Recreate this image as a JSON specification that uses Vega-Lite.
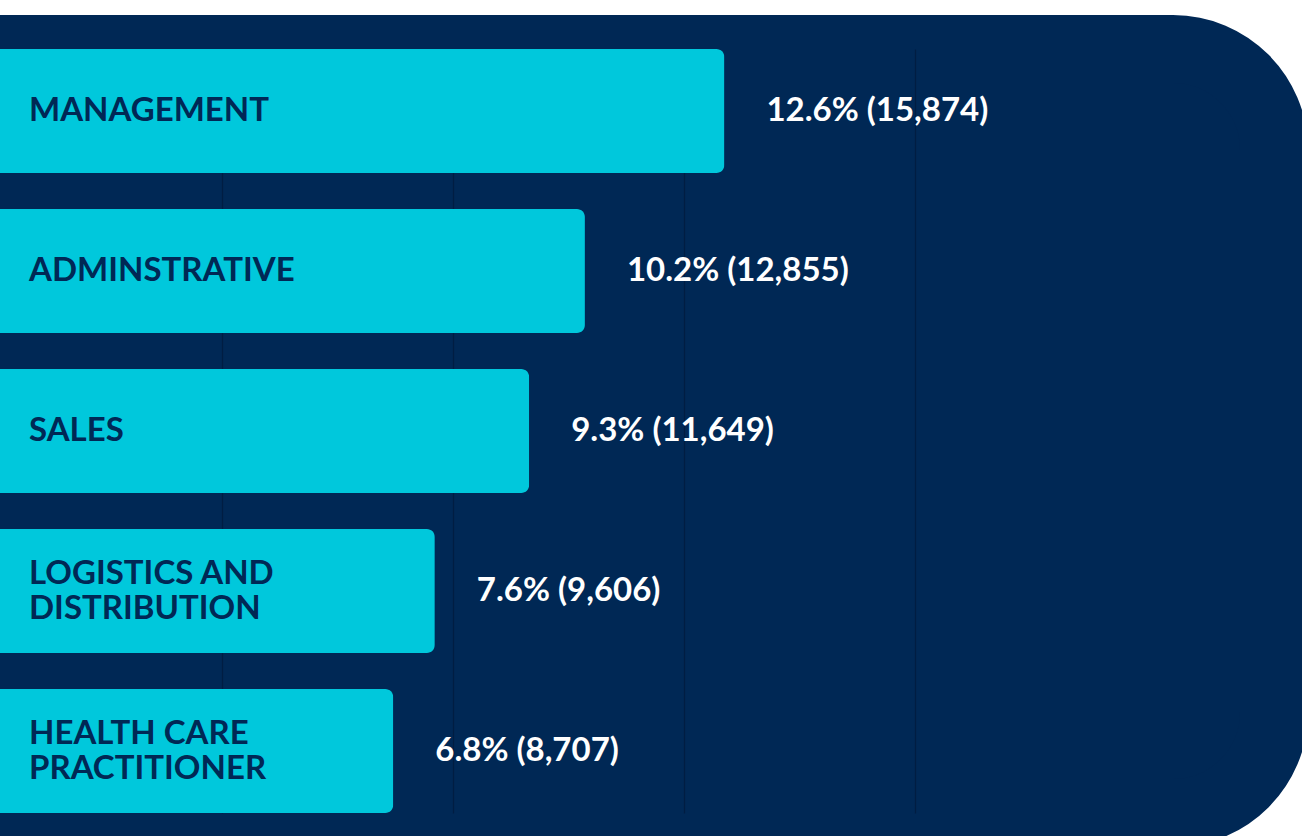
{
  "$schema": "https://vega.github.io/schema/vega-lite/v6.json",
  "width": 1514,
  "height": 764,
  "autosize": {"type": "none"},
  "padding": {"left": -240, "top": 49, "right": 28, "bottom": 23},
  "background": "#ffffff",
  "config": {
    "view": {"fill": "#002855", "stroke": "#002855", "strokeWidth": 68, "cornerRadius": 101},
    "font": "Lato"
  },
  "data": {
    "values": [
      {"category": "MANAGEMENT", "label": "MANAGEMENT", "lines": 1, "count": 15874, "pct": 12.6, "value_label": "12.6% (15,874)"},
      {"category": "ADMINSTRATIVE", "label": "ADMINSTRATIVE", "lines": 1, "count": 12855, "pct": 10.2, "value_label": "10.2% (12,855)"},
      {"category": "SALES", "label": "SALES", "lines": 1, "count": 11649, "pct": 9.3, "value_label": "9.3% (11,649)"},
      {"category": "LOGISTICS AND DISTRIBUTION", "label": "LOGISTICS AND\nDISTRIBUTION", "lines": 2, "count": 9606, "pct": 7.6, "value_label": "7.6% (9,606)"},
      {"category": "HEALTH CARE PRACTITIONER", "label": "HEALTH CARE\nPRACTITIONER", "lines": 2, "count": 8707, "pct": 6.8, "value_label": "6.8% (8,707)"}
    ]
  },
  "encoding": {
    "y": {
      "field": "category",
      "type": "nominal",
      "sort": null,
      "scale": {"paddingInner": 0.225, "paddingOuter": 0},
      "axis": null
    }
  },
  "layer": [
    {
      "mark": {"type": "bar", "color": "#00c8dc", "cornerRadiusEnd": 8},
      "encoding": {
        "x": {
          "field": "count",
          "type": "quantitative",
          "scale": {"domain": [-5000, 27770], "nice": false, "zero": false},
          "axis": {
            "values": [5000, 10000, 15000, 20000],
            "labels": false,
            "ticks": false,
            "domain": false,
            "title": null,
            "grid": true,
            "gridColor": "#001d42",
            "gridWidth": 1.2,
            "gridOpacity": 1
          }
        }
      }
    },
    {
      "transform": [{"filter": "datum.lines == 1"}],
      "mark": {
        "type": "text",
        "align": "left",
        "baseline": "middle",
        "dx": 38,
        "dy": 0,
        "font": "Lato",
        "fontWeight": "bold",
        "fontSize": 33,
        "color": "#002855"
      },
      "encoding": {
        "x": {"datum": 0, "type": "quantitative"},
        "text": {"field": "label"}
      }
    },
    {
      "transform": [{"filter": "datum.lines == 2"}],
      "mark": {
        "type": "text",
        "align": "left",
        "baseline": "middle",
        "dx": 38,
        "dy": -17,
        "font": "Lato",
        "fontWeight": "bold",
        "fontSize": 33,
        "lineHeight": 35,
        "lineBreak": "\n",
        "color": "#002855"
      },
      "encoding": {
        "x": {"datum": 0, "type": "quantitative"},
        "text": {"field": "label"}
      }
    },
    {
      "mark": {
        "type": "text",
        "align": "left",
        "baseline": "middle",
        "dx": 42,
        "font": "Lato",
        "fontWeight": "bold",
        "fontSize": 33,
        "color": "#ffffff"
      },
      "encoding": {
        "x": {"field": "count", "type": "quantitative"},
        "text": {"field": "value_label"}
      }
    }
  ]
}
